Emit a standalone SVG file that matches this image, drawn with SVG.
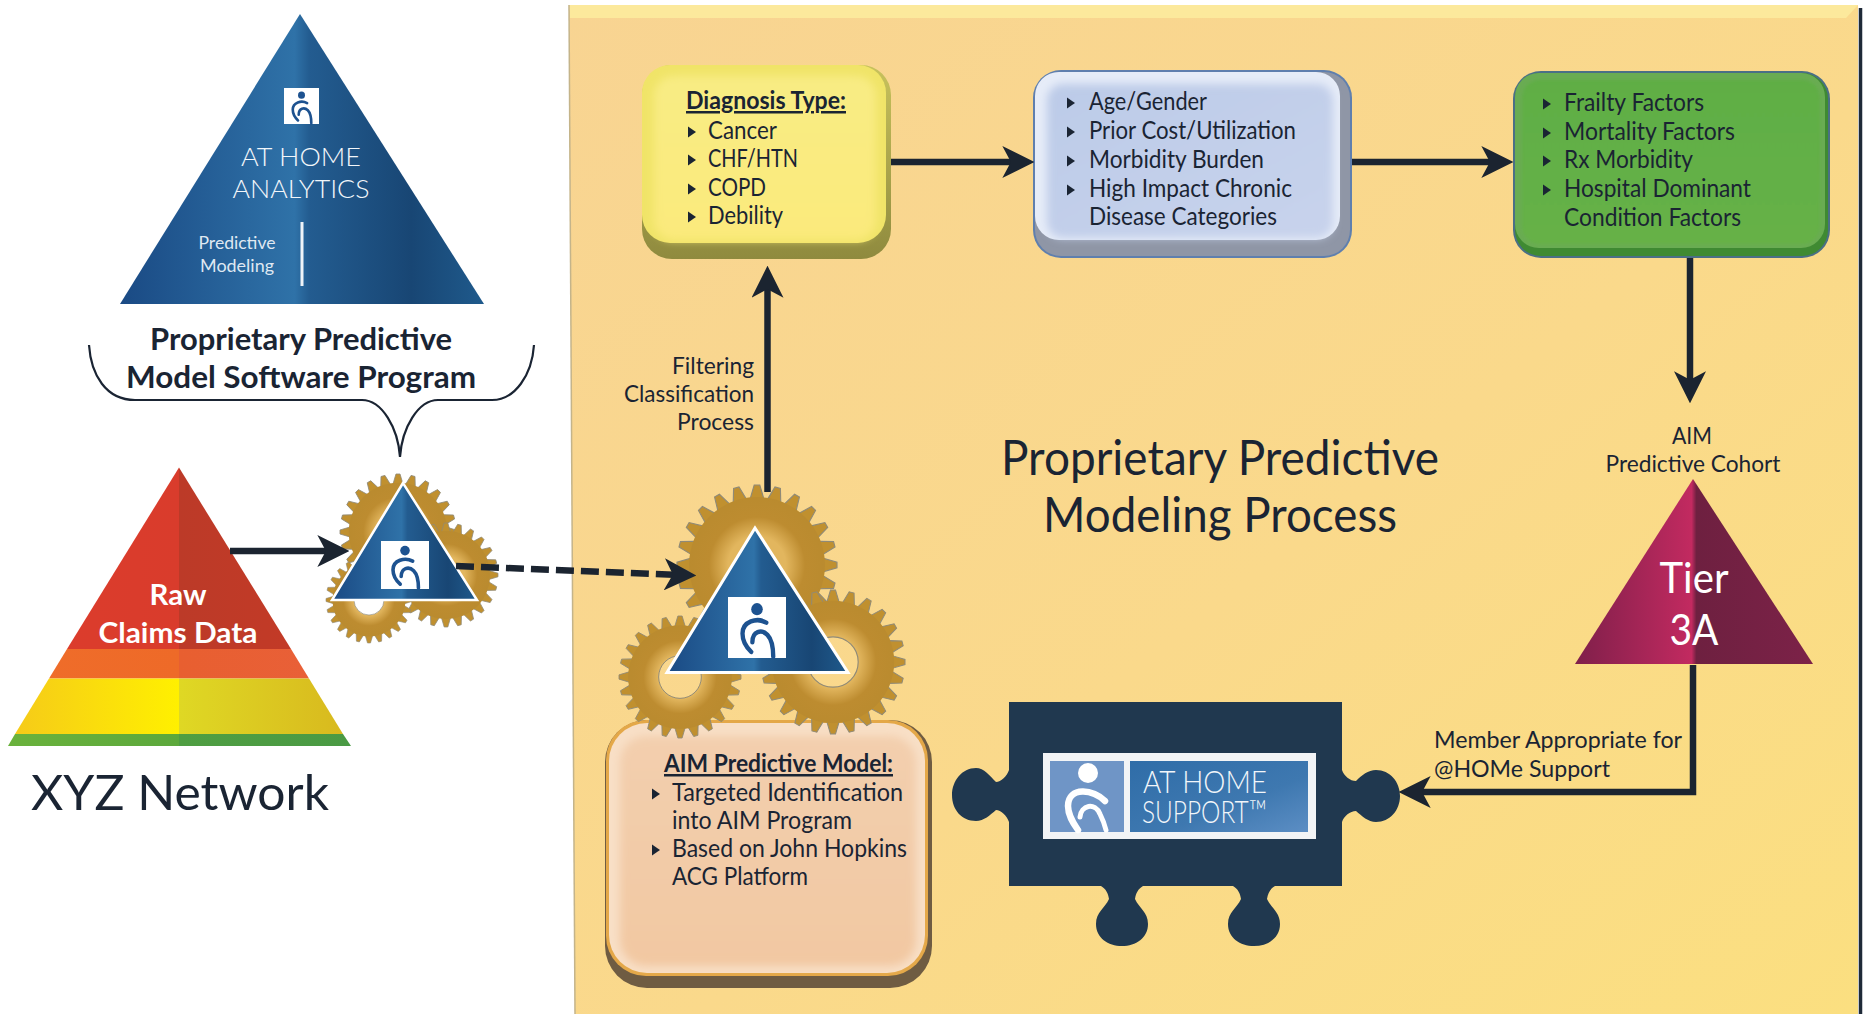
<svg xmlns="http://www.w3.org/2000/svg" width="1865" height="1014" viewBox="0 0 1865 1014">
<style>
text{font-family:"Lato","Open Sans","Liberation Sans",sans-serif;fill:#1a2433}
.b{font-size:25px}
.h{font-size:25px;font-weight:700;text-decoration:underline}
.lbl{font-size:23px}
.title{font-size:48px;text-anchor:middle}
.bold{font-size:31px;font-weight:700;text-anchor:middle}
.w{fill:#fff}
.thin{font-weight:300;fill:#f2f6fa}
.conn{fill:none;stroke:#1b2430;stroke-width:6.5;marker-end:url(#ah)}
.icon{fill:none;stroke-linecap:round}
.soft{filter:url(#soft)}
.soft2{filter:url(#soft2)}
.tooth{fill:#c0902f;stroke:#8f8a78;stroke-width:1.4}
</style>
<defs>
<filter id="soft" x="-10%" y="-10%" width="120%" height="120%"><feGaussianBlur stdDeviation="4"/></filter>
<filter id="soft2" x="-10%" y="-10%" width="120%" height="120%"><feGaussianBlur stdDeviation="1.5"/></filter>
<marker id="ah" markerUnits="userSpaceOnUse" markerWidth="32" markerHeight="32" viewBox="0 0 30 30" refX="10" refY="15" orient="auto"><path d="M0,0 L30,15 L0,30 L8,15Z" fill="#1b2430"/></marker>
<polygon id="bl" points="0,-5.5 8,0 0,5.5" fill="#1a2433"/>
<linearGradient id="panelG" x1="0" y1="0" x2="1" y2="1"><stop offset="0" stop-color="#f8d492"/><stop offset=".55" stop-color="#fad98b"/><stop offset="1" stop-color="#fbdf80"/></linearGradient>
<linearGradient id="blueG" x1="0" x2="1" y1="0" y2="0"><stop offset="0" stop-color="#1a4a84"/><stop offset=".48" stop-color="#2f72a8"/><stop offset=".52" stop-color="#235c90"/><stop offset=".8" stop-color="#184674"/><stop offset="1" stop-color="#1f5a8c"/></linearGradient>
<linearGradient id="tierG" x1="0" x2="1" y1="0" y2="0"><stop offset="0" stop-color="#7f1f4a"/><stop offset=".49" stop-color="#c22a60"/><stop offset=".51" stop-color="#6e2040"/><stop offset="1" stop-color="#7c2248"/></linearGradient>
<linearGradient id="rG" gradientUnits="userSpaceOnUse" x1="8" x2="351" y1="0" y2="0"><stop offset="0" stop-color="#dd3c2c"/><stop offset=".5" stop-color="#d93c2c"/><stop offset=".5" stop-color="#bc3a28"/><stop offset="1" stop-color="#c63a26"/></linearGradient>
<linearGradient id="oG" gradientUnits="userSpaceOnUse" x1="8" x2="351" y1="0" y2="0"><stop offset="0" stop-color="#ef6d2a"/><stop offset=".5" stop-color="#ee6a28"/><stop offset=".5" stop-color="#e85f30"/><stop offset="1" stop-color="#e9603a"/></linearGradient>
<linearGradient id="yG" gradientUnits="userSpaceOnUse" x1="8" x2="351" y1="0" y2="0"><stop offset="0" stop-color="#f5c91a"/><stop offset=".5" stop-color="#fff000"/><stop offset=".5" stop-color="#dfd824"/><stop offset="1" stop-color="#d8b81e"/></linearGradient>
<linearGradient id="gG" x1="0" x2="1" y1="0" y2="0"><stop offset="0" stop-color="#6ab23c"/><stop offset=".5" stop-color="#5ca83c"/><stop offset=".5" stop-color="#4f9e42"/><stop offset="1" stop-color="#4a9a44"/></linearGradient>
<radialGradient id="gearG" gradientUnits="userSpaceOnUse" cx="0" cy="0" r="100"><stop offset=".36" stop-color="#e2b65e"/><stop offset=".6" stop-color="#bd8c30"/><stop offset="1" stop-color="#b88a2e"/></radialGradient>
<linearGradient id="yelG" x1="0" x2="0" y1="0" y2="1"><stop offset="0" stop-color="#f8ec84"/><stop offset="1" stop-color="#fbea7c"/></linearGradient>
<linearGradient id="yelE" x1="0" x2="0" y1="0" y2="1"><stop offset="0" stop-color="#c8c25c"/><stop offset="1" stop-color="#8f8a3e"/></linearGradient>
<linearGradient id="bluG" x1="0" x2="1" y1="0" y2="1"><stop offset="0" stop-color="#bccbe8"/><stop offset="1" stop-color="#c8d3ec"/></linearGradient>
<linearGradient id="greG" x1="0" x2="0" y1="0" y2="1"><stop offset="0" stop-color="#5fae45"/><stop offset="1" stop-color="#66b146"/></linearGradient>
<linearGradient id="begG" x1="0" x2="0" y1="0" y2="1"><stop offset="0" stop-color="#f3cfae"/><stop offset="1" stop-color="#f2c8a2"/></linearGradient>
<linearGradient id="banG" x1="0" x2="1" y1="0" y2="1"><stop offset="0" stop-color="#2f6da8"/><stop offset=".6" stop-color="#3e78b0"/><stop offset="1" stop-color="#5c8ec4"/></linearGradient>
<polygon id="t" class="tooth" points="-8.5,-83 -3.5,-100 3.5,-100 8.5,-83"/>
<g id="teeth4"><use href="#t"/><use href="#t" transform="rotate(15)"/><use href="#t" transform="rotate(30)"/><use href="#t" transform="rotate(45)"/><use href="#t" transform="rotate(60)"/><use href="#t" transform="rotate(75)"/></g>
<g id="gearTeeth"><use href="#teeth4"/><use href="#teeth4" transform="rotate(90)"/><use href="#teeth4" transform="rotate(180)"/><use href="#teeth4" transform="rotate(270)"/></g>
<g id="gear">
<use href="#gearTeeth"/>
<path d="M0,-85A85,85 0 1 1 0,85A85,85 0 1 1 0,-85ZM0,-35A35,35 0 1 0 0,35A35,35 0 1 0 0,-35Z" fill="url(#gearG)"/>
<circle r="35" fill="none" stroke="#8f8a78" stroke-width="1.6"/>
</g>
<g id="gearSolid">
<use href="#gearTeeth"/>
<circle r="85" fill="url(#gearG)"/>
</g>
<g id="mark">
<rect width="100" height="100" fill="#fff"/>
<circle cx="50" cy="20" r="10" fill="#1d5290"/>
<path class="icon" stroke="#1d5290" stroke-width="7.5" d="M66,42C50,33 25,40 25,60C25,72 31,82 40,90"/>
<path class="icon" stroke="#1d5290" stroke-width="7.5" d="M42,74C42,56 58,52 68,62C76,70 78,85 78,98"/>
</g>
</defs>

<g id="panel">
<polygon points="569,5 1858,5 1858,1014 575,1014" fill="url(#panelG)"/>
<polygon points="569,5 1858,5 1846,18 570,18" fill="#fce99c"/>
<path d="M569,5L575,1014" stroke="#c4b48a" stroke-width="1.5" fill="none"/>
<path d="M1860.5,8V1014" stroke="#1f2a38" stroke-width="3.5" fill="none"/>
</g>

<g id="analytics">
<polygon points="300,14 120,304 484,304" fill="url(#blueG)"/>
<use href="#mark" transform="translate(284 88) scale(.35 .36)"/>
<text class="thin" x="301" y="166" font-size="26" text-anchor="middle" textLength="120" lengthAdjust="spacingAndGlyphs">AT HOME</text>
<text class="thin" x="301" y="198" font-size="26" text-anchor="middle" textLength="137" lengthAdjust="spacingAndGlyphs">ANALYTICS</text>
<text x="237" y="249" font-size="18" text-anchor="middle" style="fill:#dfe8f2" textLength="77" lengthAdjust="spacingAndGlyphs">Predictive</text>
<text x="237" y="272" font-size="18" text-anchor="middle" style="fill:#dfe8f2" textLength="74" lengthAdjust="spacingAndGlyphs">Modeling</text>
<rect x="300.5" y="222" width="3" height="64" fill="#eef3f8"/>
</g>

<g id="software-label">
<text class="bold" x="301" y="350" textLength="302" lengthAdjust="spacingAndGlyphs">Proprietary Predictive</text>
<text class="bold" x="301" y="388" textLength="350" lengthAdjust="spacingAndGlyphs">Model Software Program</text>
<path d="M89,345C91,375 106,400 135,400H362C382,400 398,428 400,457C402,428 418,400 438,400H492C515,400 532,375 534,345" fill="none" stroke="#1a2433" stroke-width="2.2"/>
</g>

<g id="raw-claims">
<polygon points="179,467.5 67,649 291,649" fill="url(#rG)"/>
<polygon points="67,649 291,649 309,678.5 49,678.5" fill="url(#oG)"/>
<polygon points="49,678.5 309,678.5 343,734 15,734" fill="url(#yG)"/>
<polygon points="15,734 343,734 351,746 8,746" fill="url(#gG)"/>
<text x="178" y="605" font-size="29" font-weight="700" class="w" text-anchor="middle" textLength="57" lengthAdjust="spacingAndGlyphs">Raw</text>
<text x="178" y="643" font-size="29" font-weight="700" class="w" text-anchor="middle" textLength="159" lengthAdjust="spacingAndGlyphs">Claims Data</text>
</g>

<text id="xyz-network" x="31" y="810" font-size="49" textLength="298" lengthAdjust="spacingAndGlyphs">XYZ Network</text>

<g id="small-gears">
<use href="#gearSolid" transform="translate(398 532) scale(.58)"/>
<use href="#gearSolid" transform="translate(446 575) scale(.52)"/>
<use href="#gear" transform="translate(369 600) scale(.43)"/>
<polygon points="403,483 332,600 477,600" fill="url(#blueG)" stroke="#fff" stroke-width="2.5"/>
<use href="#mark" transform="translate(381 541) scale(.48 .48)"/>
</g>

<g id="aim-model">
<rect x="605" y="720" width="327" height="268" rx="42" fill="#6f5c42"/>
<rect x="606" y="720" width="322" height="256" rx="40" fill="#e4a848"/>
<rect x="609" y="723" width="316" height="250" rx="38" fill="#f8dfc6"/>
<rect x="620" y="736" width="296" height="230" rx="26" fill="url(#begG)" class="soft"/>
<text class="h" x="664" y="772" textLength="229" lengthAdjust="spacingAndGlyphs">AIM Predictive Model:</text>
<use href="#bl" x="652" y="794"/><text class="b" x="672" y="801" textLength="231" lengthAdjust="spacingAndGlyphs">Targeted Identification</text>
<text class="b" x="672" y="829" textLength="180" lengthAdjust="spacingAndGlyphs">into AIM Program</text>
<use href="#bl" x="652" y="850"/><text class="b" x="672" y="857" textLength="235" lengthAdjust="spacingAndGlyphs">Based on John Hopkins</text>
<text class="b" x="672" y="885" textLength="136" lengthAdjust="spacingAndGlyphs">ACG Platform</text>
</g>

<g id="aim-gears">
<use href="#gearSolid" transform="translate(757 565) scale(.8)"/>
<use href="#gear" transform="translate(680 677) scale(.61)"/>
<use href="#gear" transform="translate(833 662) scale(.72)"/>
<polygon points="755,528 667,672.5 848,672.5" fill="url(#blueG)" stroke="#fff" stroke-width="3"/>
<use href="#mark" transform="translate(728 597) scale(.58 .61)"/>
</g>

<g id="diagnosis">
<rect x="642" y="65" width="249" height="194" rx="30" fill="url(#yelE)"/>
<rect x="642" y="65" width="244" height="178" rx="28" fill="#f0e468"/>
<rect x="654" y="76" width="222" height="164" rx="20" fill="url(#yelG)" class="soft"/>
<text class="h" x="686" y="109" textLength="160" lengthAdjust="spacingAndGlyphs">Diagnosis Type:</text>
<use href="#bl" x="688" y="132"/><text class="b" x="708" y="139" textLength="69" lengthAdjust="spacingAndGlyphs">Cancer</text>
<use href="#bl" x="688" y="160"/><text class="b" x="708" y="167" textLength="90" lengthAdjust="spacingAndGlyphs">CHF/HTN</text>
<use href="#bl" x="688" y="189"/><text class="b" x="708" y="196" textLength="58" lengthAdjust="spacingAndGlyphs">COPD</text>
<use href="#bl" x="688" y="217"/><text class="b" x="708" y="224" textLength="75" lengthAdjust="spacingAndGlyphs">Debility</text>
</g>

<g id="factors-blue">
<rect x="1033" y="70" width="319" height="188" rx="28" fill="#5f7fae"/>
<rect x="1035" y="72" width="315" height="184" rx="26" fill="#8f96a6"/>
<rect x="1035" y="72" width="305" height="168" rx="24" fill="#e6ecf8"/>
<rect x="1047" y="84" width="286" height="154" rx="16" fill="url(#bluG)" class="soft"/>
<use href="#bl" x="1067" y="103"/><text class="b" x="1089" y="110" textLength="118" lengthAdjust="spacingAndGlyphs">Age/Gender</text>
<use href="#bl" x="1067" y="132"/><text class="b" x="1089" y="139" textLength="207" lengthAdjust="spacingAndGlyphs">Prior Cost/Utilization</text>
<use href="#bl" x="1067" y="161"/><text class="b" x="1089" y="168" textLength="175" lengthAdjust="spacingAndGlyphs">Morbidity Burden</text>
<use href="#bl" x="1067" y="190"/><text class="b" x="1089" y="197" textLength="203" lengthAdjust="spacingAndGlyphs">High Impact Chronic</text>
<text class="b" x="1089" y="225" textLength="188" lengthAdjust="spacingAndGlyphs">Disease Categories</text>
</g>

<g id="factors-green">
<rect x="1513" y="71" width="317" height="187" rx="28" fill="#4a6f86"/>
<rect x="1515" y="73" width="313" height="183" rx="26" fill="#3f8a32"/>
<rect x="1515" y="73" width="310" height="175" rx="24" fill="#69ac52"/>
<rect x="1522" y="80" width="298" height="164" rx="18" fill="url(#greG)" class="soft2"/>
<use href="#bl" x="1543" y="104"/><text class="b" x="1564" y="111" textLength="140" lengthAdjust="spacingAndGlyphs">Frailty Factors</text>
<use href="#bl" x="1543" y="133"/><text class="b" x="1564" y="140" textLength="171" lengthAdjust="spacingAndGlyphs">Mortality Factors</text>
<use href="#bl" x="1543" y="161"/><text class="b" x="1564" y="168" textLength="129" lengthAdjust="spacingAndGlyphs">Rx Morbidity</text>
<use href="#bl" x="1543" y="190"/><text class="b" x="1564" y="197" textLength="187" lengthAdjust="spacingAndGlyphs">Hospital Dominant</text>
<text class="b" x="1564" y="226" textLength="177" lengthAdjust="spacingAndGlyphs">Condition Factors</text>
</g>

<g id="tier-3a">
<polygon points="1693,479 1575,664 1813,664" fill="url(#tierG)"/>
<text x="1694" y="593" font-size="42" class="w" text-anchor="middle" textLength="69" lengthAdjust="spacingAndGlyphs">Tier</text>
<text x="1694" y="645" font-size="42" class="w" text-anchor="middle" textLength="49" lengthAdjust="spacingAndGlyphs">3A</text>
</g>

<g id="at-home-support">
<path fill="#20384f" d="M1009,702H1342V770C1344,776 1350,781 1356,781C1362,775 1368,770 1376,770C1390,770 1400,782 1400,796C1400,810 1390,822 1376,822C1368,822 1362,816 1356,811C1350,811 1344,816 1342,822V886H1275C1270,889 1268,893 1267,899C1271,908 1280,912 1280,924C1280,938 1268,946 1254,946C1240,946 1228,938 1228,924C1228,912 1237,908 1241,899C1240,893 1238,889 1233,886H1143C1138,889 1136,893 1135,899C1139,908 1148,912 1148,924C1148,938 1136,946 1122,946C1108,946 1096,938 1096,924C1096,912 1105,908 1109,899C1108,893 1106,889 1101,886H1009V822C1007,816 1001,810 996,810C990,815 984,821 976,821C962,821 952,810 952,795C952,781 962,768 976,768C984,768 990,776 996,782C1001,782 1007,776 1009,770Z"/>
<rect x="1043" y="753" width="273" height="86" fill="#f2f4f6"/>
<rect x="1050" y="761" width="74" height="71" fill="#6f95c6"/>
<rect x="1130" y="761" width="178" height="71" fill="url(#banG)"/>
<circle cx="1088" cy="773" r="10" fill="#fff"/>
<path class="icon" stroke="#fff" stroke-width="6.5" d="M1105,801C1094,789 1068,786 1068,806C1068,816 1074,824 1078,830"/>
<path class="icon" stroke="#fff" stroke-width="5" d="M1080,817C1081,805 1095,802 1100,814C1103,820 1105,826 1106,830"/>
<text class="thin" x="1143" y="793" font-size="32" textLength="124" lengthAdjust="spacingAndGlyphs">AT HOME</text>
<text class="thin" x="1142" y="823" font-size="32" textLength="125" lengthAdjust="spacingAndGlyphs">SUPPORT™</text>
</g>

<g id="labels">
<text class="lbl" x="754" y="374" text-anchor="end" textLength="82" lengthAdjust="spacingAndGlyphs">Filtering</text>
<text class="lbl" x="754" y="402" text-anchor="end" textLength="130" lengthAdjust="spacingAndGlyphs">Classification</text>
<text class="lbl" x="754" y="430" text-anchor="end" textLength="77" lengthAdjust="spacingAndGlyphs">Process</text>
<text class="title" x="1220" y="475" textLength="438" lengthAdjust="spacingAndGlyphs">Proprietary Predictive</text>
<text class="title" x="1220" y="532" textLength="354" lengthAdjust="spacingAndGlyphs">Modeling Process</text>
<text class="lbl" x="1692" y="444" text-anchor="middle" textLength="40" lengthAdjust="spacingAndGlyphs">AIM</text>
<text class="lbl" x="1693" y="472" text-anchor="middle" textLength="175" lengthAdjust="spacingAndGlyphs">Predictive Cohort</text>
<text class="lbl" x="1434" y="748" textLength="248" lengthAdjust="spacingAndGlyphs">Member Appropriate for</text>
<text class="lbl" x="1434" y="777" textLength="176" lengthAdjust="spacingAndGlyphs">@HOMe Support</text>
</g>

<g id="connectors">
<path class="conn" d="M230,551H328"/>
<path class="conn" stroke-dasharray="18 7" d="M456,566L675,574.7"/>
<path class="conn" d="M767.5,492V287"/>
<path class="conn" d="M891,162H1013"/>
<path class="conn" d="M1352,162H1492"/>
<path class="conn" d="M1690,258V382"/>
<path class="conn" d="M1693,665V792H1420"/>
</g>
</svg>
